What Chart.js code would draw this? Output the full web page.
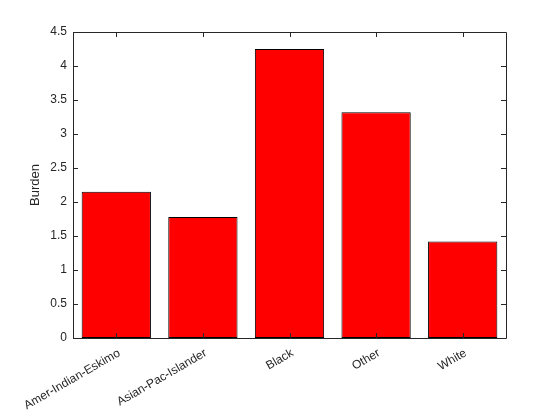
<!DOCTYPE html>
<html>
<head>
<meta charset="utf-8">
<script src="https://cdn.jsdelivr.net/npm/chart.js@4"></script>
<style>
  html, body { margin: 0; padding: 0; background: #fff; }
  #wrap { width: 560px; height: 420px; }
</style>
</head>
<body>
<div id="wrap"><canvas id="burdenChart" width="560" height="420"></canvas></div>
<script>
// Data
const categories = ['Amer-Indian-Eskimo', 'Asian-Pac-Islander', 'Black', 'Other', 'White'];
const burden = [2.15, 1.78, 4.25, 3.32, 1.42];
const yTicks = [0, 0.5, 1, 1.5, 2, 2.5, 3, 3.5, 4, 4.5];

const textColor = '#262626';
const fontFamily = '"Liberation Sans", Arial, Helvetica, sans-serif';

// Box round the axes with inward tick marks (MATLAB look)
const boxTicks = {
    id: 'boxTicks',
    afterDatasetsDraw(chart) {
        const ctx = chart.ctx;
        const area = chart.chartArea;
        const x = chart.scales.x;
        const y = chart.scales.y;
        const len = 5;
        ctx.save();
        ctx.strokeStyle = textColor;
        ctx.lineWidth = 1;
        ctx.beginPath();
        ctx.rect(Math.round(area.left) + 0.5, Math.round(area.top) + 0.5,
                 Math.round(area.right - area.left), Math.round(area.bottom - area.top));
        y.ticks.forEach(t => {
            const py = Math.round(y.getPixelForValue(t.value)) + 0.5;
            ctx.moveTo(area.left, py); ctx.lineTo(area.left + len, py);
            ctx.moveTo(area.right, py); ctx.lineTo(area.right - len, py);
        });
        categories.forEach((c, i) => {
            const px = Math.round(x.getPixelForValue(i)) + 0.5;
            ctx.moveTo(px, area.bottom); ctx.lineTo(px, area.bottom - len);
            ctx.moveTo(px, area.top); ctx.lineTo(px, area.top + len);
        });
        ctx.stroke();
        ctx.restore();
    }
};

const chart = new Chart(document.getElementById('burdenChart'), {
    type: 'bar',
    data: {
        labels: categories,
        datasets: [{
            label: 'Burden',
            data: burden,
            backgroundColor: '#ff0000',
            borderColor: '#000000',
            borderWidth: 1,
            borderSkipped: false,
            categoryPercentage: 1.0,
            barPercentage: 0.8
        }]
    },
    options: {
        responsive: false,
        animation: false,
        layout: { padding: { left: 0, right: 54, top: 32, bottom: 0 } },
        plugins: {
            legend: { display: false },
            tooltip: { enabled: false }
        },
        scales: {
            x: {
                offset: true,
                grid: { display: false, drawTicks: false },
                border: { display: false },
                ticks: {
                    color: textColor,
                    font: { family: fontFamily, size: 12 },
                    minRotation: 30,
                    maxRotation: 30,
                    padding: 8,
                    labelOffset: 3,
                    autoSkip: false
                },
                afterFit(scale) { scale.height = 82; }
            },
            y: {
                min: 0,
                max: 4.5,
                grid: { display: false, drawTicks: false },
                border: { display: false },
                afterBuildTicks(scale) { scale.ticks = yTicks.map(v => ({ value: v })); },
                ticks: {
                    color: textColor,
                    font: { family: fontFamily, size: 12 },
                    padding: 6,
                    callback: v => String(v)
                },
                title: {
                    display: true,
                    text: 'Burden',
                    color: textColor,
                    font: { family: fontFamily, size: 13 },
                    padding: { top: 28, bottom: 0 }
                },
                afterFit(scale) { scale.width = 73; }
            }
        }
    },
    plugins: [boxTicks]
});
</script>
</body>
</html>
